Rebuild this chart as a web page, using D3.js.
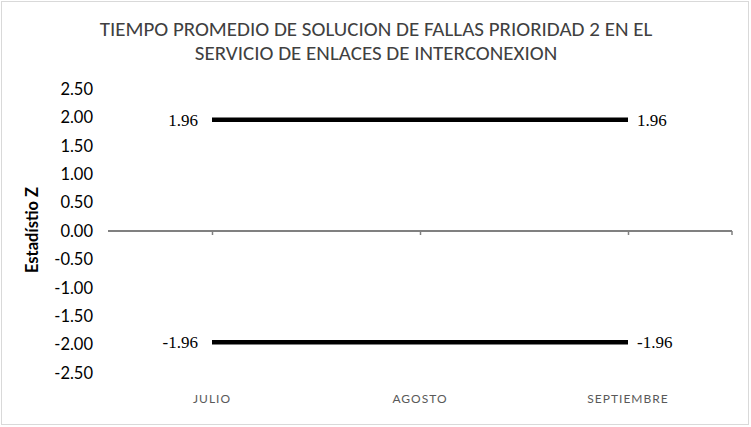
<!DOCTYPE html>
<html><head><meta charset="utf-8">
<script src="https://cdn.jsdelivr.net/npm/d3@7"></script>
<style>body{margin:0;background:#fff}svg{display:block}</style>
</head><body><div id="chart"></div>
<script>
const categories = ["JULIO", "AGOSTO", "SEPTIEMBRE"];
const upperLimit = [1.96, 1.96, 1.96];
const lowerLimit = [-1.96, -1.96, -1.96];
const yTicks = [2.5, 2.0, 1.5, 1.0, 0.5, 0.0, -0.5, -1.0, -1.5, -2.0, -2.5];
const titleLines = ["TIEMPO PROMEDIO DE SOLUCION DE FALLAS PRIORIDAD 2 EN EL", "SERVICIO DE ENLACES DE INTERCONEXION"];
const yTitle = "Estadístio Z";

const W = 751, H = 427;
const svg = d3.select("#chart").append("svg").attr("width", W).attr("height", H);
svg.append("rect").attr("x", 1.5).attr("y", 1.5).attr("width", W - 4).attr("height", H - 4)
  .attr("fill", "#fff").attr("stroke", "#d9d9d9").attr("stroke-width", 1);

const calib = "Carlito, Calibri, 'Open Sans', sans-serif";
const sans = "Lato, 'Open Sans', sans-serif";
const serif = "'Liberation Serif', 'DejaVu Serif', serif";
const fmt = v => d3.format(".2f")(v).replace("\u2212", "-");

const x = d3.scalePoint().domain(categories).range([108, 732]).padding(0.5);
const y = d3.scaleLinear().domain([-2.5, 2.5]).range([373, 89]);

// title
svg.append("g").selectAll("text").data(titleLines).join("text")
  .attr("x", 376).attr("y", (d, i) => 36 + i * 24)
  .attr("text-anchor", "middle").attr("font-family", calib).attr("font-size", 21)
  .attr("fill", "#404040").text(d => d);

// y axis labels
const yAxis = d3.axisLeft(y).tickValues(yTicks).tickFormat(fmt).tickSize(0).tickPadding(0);
const yg = svg.append("g").attr("transform", "translate(93,0)").call(yAxis);
yg.select(".domain").remove();
yg.selectAll("text").attr("font-family", sans).attr("font-size", 16.5).attr("fill", "#000");

// y title
svg.append("text").attr("transform", "translate(38,230) rotate(-90)")
  .attr("text-anchor", "middle").attr("font-family", sans).attr("font-size", 16.5)
  .attr("font-weight", "bold").attr("fill", "#000").text(yTitle);

// zero axis with ticks
const xAxis = d3.axisBottom(x).tickSize(4).tickFormat("");
const xg = svg.append("g").attr("transform", `translate(0,${y(0)})`).call(xAxis);
xg.select(".domain").attr("stroke", "#808080").attr("stroke-width", 2)
  .attr("d", `M108,0H732`);
xg.selectAll(".tick line").attr("stroke", "#808080").attr("stroke-width", 1.5);
xg.append("line").attr("x1", 732).attr("x2", 732).attr("y1", 0).attr("y2", 4)
  .attr("stroke", "#808080").attr("stroke-width", 1.5);

// category labels
svg.append("g").selectAll("text").data(categories).join("text")
  .attr("x", d => x(d)).attr("y", 403).attr("text-anchor", "middle")
  .attr("font-family", sans).attr("font-size", 12).attr("letter-spacing", 1)
  .attr("fill", "#595959").text(d => d);

// lines
const line = d3.line().x((d, i) => x(categories[i])).y(d => y(d));
[upperLimit, lowerLimit].forEach(s => {
  svg.append("path").datum(s).attr("d", line).attr("fill", "none")
    .attr("stroke", "#000").attr("stroke-width", 4.5);
  const last = s.length - 1;
  svg.append("text").attr("x", x(categories[0]) - 14).attr("y", y(s[0]) + 6)
    .attr("text-anchor", "end").attr("font-family", serif).attr("font-size", 17)
    .attr("fill", "#000").text(fmt(s[0]));
  svg.append("text").attr("x", x(categories[last]) + 9).attr("y", y(s[last]) + 6)
    .attr("text-anchor", "start").attr("font-family", serif).attr("font-size", 17)
    .attr("fill", "#000").text(fmt(s[last]));
});
</script></body></html>
